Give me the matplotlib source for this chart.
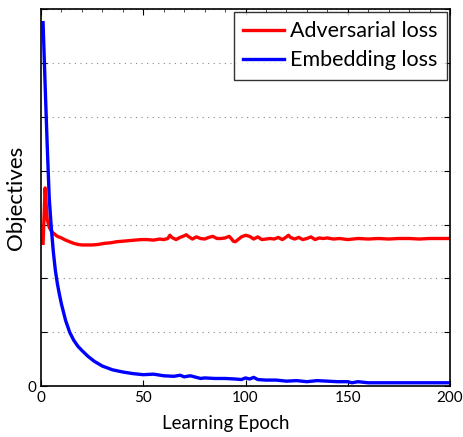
import matplotlib
matplotlib.use("Agg")
import matplotlib.pyplot as plt
from matplotlib.ticker import MultipleLocator

plt.rcParams['font.family'] = ['Lato', 'DejaVu Sans']

epochs_adv = [1,2,3,4,5,6,7,8,10,12,
              14,16,18,20,22,25,28,31,34,37,
              40,43,46,49,52,55,58,60,62,63,
              64,66,68,70,71,72,74,76,78,80,
              82,84,86,88,90,92,93,94,95,96,
              98,100,102,104,106,108,110,112,114,116,
              118,120,121,122,124,126,128,130,132,134,
              136,138,140,143,146,150,155,160,165,170,
              175,180,185,190,195,200]
adv_loss = [2.65,3.68,3.10,2.95,2.88,2.84,2.81,2.78,2.75,2.71,
            2.68,2.65,2.63,2.62,2.62,2.62,2.63,2.65,2.66,2.68,
            2.69,2.70,2.71,2.72,2.72,2.71,2.73,2.72,2.74,2.80,
            2.76,2.72,2.76,2.79,2.81,2.78,2.73,2.77,2.74,2.73,
            2.76,2.78,2.74,2.74,2.75,2.78,2.74,2.69,2.68,2.71,
            2.77,2.80,2.78,2.73,2.77,2.72,2.73,2.74,2.73,2.76,
            2.72,2.77,2.80,2.76,2.73,2.76,2.72,2.74,2.77,2.72,
            2.75,2.74,2.75,2.73,2.74,2.72,2.74,2.73,2.74,2.73,
            2.74,2.74,2.73,2.74,2.74,2.74]

epochs_emb = [1,2,3,4,5,6,7,8,9,10,
              12,14,16,18,20,23,26,30,35,40,45,50,
              55,60,65,68,70,73,75,78,80,
              85,90,95,98,100,102,104,106,
              110,115,120,125,130,135,140,145,150,
              152,155,160,170,180,190,200]
emb_loss = [6.75,5.6,4.5,3.5,2.95,2.5,2.15,1.9,1.7,1.52,
            1.22,1.0,0.85,0.74,0.66,0.55,0.46,0.37,0.30,0.26,0.23,0.21,
            0.22,0.19,0.18,0.20,0.17,0.19,0.17,0.14,0.15,
            0.14,0.14,0.13,0.12,0.15,0.13,0.16,0.12,
            0.11,0.11,0.09,0.10,0.08,0.10,0.09,0.08,0.08,
            0.06,0.08,0.06,0.06,0.06,0.06,0.06]

x_ticks = [0, 50, 100, 150, 200]
y_ticks = [0, 1, 2, 3, 4, 5, 6, 7]
y_tick_labels = ['0', '', '', '', '', '', '', '']

fig = plt.figure(figsize=(4.63, 4.37), dpi=100)
ax = fig.add_axes([0.0886, 0.1167, 0.8834, 0.8623])

ax.plot(epochs_adv, adv_loss, color='#ff0000', lw=2.4, label='Adversarial loss')
ax.plot(epochs_emb, emb_loss, color='#0000ff', lw=2.4, label='Embedding loss')

ax.set_xlim(0, 200)
ax.set_ylim(0, 7)
ax.set_xticks(x_ticks)
ax.set_yticks(y_ticks)
ax.set_yticklabels(y_tick_labels)
ax.tick_params(direction='in', top=True, right=True, labelsize=11, length=4, width=0.8)
ax.xaxis.set_minor_locator(MultipleLocator(10))
ax.tick_params(which='minor', direction='in', top=True, bottom=False, length=2, width=0.5)
ax.yaxis.grid(True, linestyle=(0, (1, 4)), color='#888888', lw=0.8)
for s in ax.spines.values():
    s.set_linewidth(1.2)

ax.set_xlabel('Learning Epoch', fontsize=13.5)
ax.xaxis.set_label_coords(0.452, -0.078)
ax.set_ylabel('Objectives', fontsize=16, labelpad=1)

leg = ax.legend(loc='upper right', fontsize=15.5, frameon=True, fancybox=False,
                edgecolor='black', borderpad=0.42, handlelength=1.9,
                handletextpad=0.3, labelspacing=0.42, borderaxespad=0.15)
leg.get_frame().set_linewidth(1.0)

fig.savefig('out.png', dpi=100)
